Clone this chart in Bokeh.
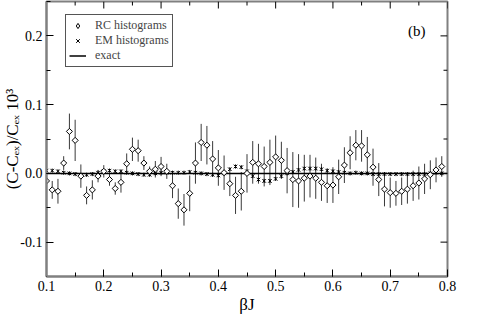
import math
from bokeh.plotting import figure
from bokeh.models import (Range1d, Label, Legend, LegendItem,
                          SingleIntervalTicker, NumeralTickFormatter)
from bokeh.embed import file_html
from bokeh.resources import INLINE

beta_j = [0.10, 0.11, 0.12, 0.13, 0.14, 0.15, 0.16, 0.17, 0.18, 0.19,
          0.20, 0.21, 0.22, 0.23, 0.24, 0.25, 0.26, 0.27, 0.28, 0.29,
          0.30, 0.31, 0.32, 0.33, 0.34, 0.35, 0.36, 0.37, 0.38, 0.39,
          0.40, 0.41, 0.42, 0.43, 0.44, 0.45, 0.46, 0.47, 0.48, 0.49,
          0.50, 0.51, 0.52, 0.53, 0.54, 0.55, 0.56, 0.57, 0.58, 0.59,
          0.60, 0.61, 0.62, 0.63, 0.64, 0.65, 0.66, 0.67, 0.68, 0.69,
          0.70, 0.71, 0.72, 0.73, 0.74, 0.75, 0.76, 0.77, 0.78, 0.79]

rc_val = [-0.011, -0.024, -0.026, 0.015, 0.061, 0.048, -0.004, -0.032, -0.024, -0.004,
          0.003, -0.009, -0.022, -0.013, 0.014, 0.035, 0.033, 0.015, 0.003, 0.006,
          0.010, 0.003, -0.018, -0.044, -0.053, -0.029, 0.015, 0.045, 0.041, 0.021,
          0.008, 0.001, -0.015, -0.032, -0.026, 0.000, 0.016, 0.014, 0.010, 0.016,
          0.024, 0.019, 0.004, -0.009, -0.011, -0.007, -0.004, -0.007, -0.013, -0.018,
          -0.017, -0.005, 0.012, 0.030, 0.041, 0.040, 0.027, 0.009, -0.009, -0.023,
          -0.028, -0.029, -0.026, -0.023, -0.018, -0.014, -0.008, -0.002, 0.005, 0.010]

rc_err = [0.012, 0.013, 0.018, 0.010, 0.026, 0.030, 0.017, 0.013, 0.014, 0.009,
          0.009, 0.009, 0.009, 0.015, 0.015, 0.017, 0.016, 0.010, 0.007, 0.012,
          0.014, 0.011, 0.018, 0.022, 0.023, 0.026, 0.030, 0.027, 0.028, 0.026,
          0.026, 0.025, 0.018, 0.027, 0.028, 0.028, 0.031, 0.029, 0.029, 0.033,
          0.031, 0.027, 0.033, 0.040, 0.039, 0.034, 0.031, 0.030, 0.027, 0.025,
          0.026, 0.025, 0.026, 0.024, 0.022, 0.023, 0.026, 0.027, 0.024, 0.025,
          0.022, 0.018, 0.020, 0.021, 0.022, 0.024, 0.022, 0.021, 0.018, 0.015]

em_val = [0.004, 0.004, 0.003, 0.001, 0.000, -0.001, -0.002, -0.002, -0.001, 0.001,
          0.003, 0.004, 0.003, 0.003, 0.001, 0.000, -0.001, -0.002, -0.002, 0.000,
          0.001, 0.001, 0.001, 0.001, 0.001, 0.002, 0.001, 0.000, -0.001, -0.002,
          -0.003, 0.000, 0.006, 0.010, 0.009, 0.003, -0.004, -0.009, -0.011, -0.011,
          -0.008, -0.004, 0.000, 0.002, 0.005, 0.007, 0.007, 0.007, 0.006, 0.004,
          0.003, 0.002, 0.001, 0.000, 0.001, 0.000, 0.000, -0.001, -0.001, -0.001,
          -0.001, -0.001, -0.001, -0.001, -0.001, -0.001, -0.001, 0.000, 0.001, 0.000]

em_err = [0.003] * 70

exact_x = [0.1, 0.8]
exact_y = [0.0, 0.0]

# tick positions for the mirrored (top / right) tick marks
x_major = [0.1, 0.2, 0.3, 0.4, 0.5, 0.6, 0.7, 0.8]
x_minor = [0.15, 0.25, 0.35, 0.45, 0.55, 0.65, 0.75]
y_major = [-0.1, 0.0, 0.1, 0.2]
y_minor = [-0.05, 0.05, 0.15]

X0, X1 = 0.1, 0.8
Y0, Y1 = -0.15, 0.25

SERIF = "Liberation Serif"

p = figure(width=477, height=316, output_backend="svg", toolbar_location=None,
           x_range=Range1d(X0, X1), y_range=Range1d(Y0, Y1),
           min_border_left=45, min_border_right=30, min_border_top=1,
           min_border_bottom=34)
p.outline_line_color = "#808080"
p.outline_line_width = 2
p.xgrid.visible = False
p.ygrid.visible = False
p.background_fill_color = "white"
p.border_fill_color = "white"

# error bars
rc_lo = [v - e for v, e in zip(rc_val, rc_err)]
rc_hi = [v + e for v, e in zip(rc_val, rc_err)]
em_lo = [v - e for v, e in zip(em_val, em_err)]
em_hi = [v + e for v, e in zip(em_val, em_err)]
p.segment(x0=beta_j, y0=rc_lo, x1=beta_j, y1=rc_hi, line_color="#3a3a3a", line_width=1)
p.segment(x0=beta_j, y0=em_lo, x1=beta_j, y1=em_hi, line_color="black", line_width=1)

r_exact = p.line(exact_x, exact_y, line_color="black", line_width=1.5)
r_em = p.scatter(beta_j, em_val, marker="x", size=5, line_color="black", line_width=1)
p.scatter(beta_j, rc_val, marker="square", angle=math.pi / 4, size=4.3,
          line_color="black", fill_color="white", line_width=1)
# legend key glyph (holds no data point, only used by the legend)
r_rc_key = p.scatter(x=[float("nan")], y=[float("nan")], marker="diamond", size=8,
                     line_color="black", fill_color="white", line_width=1)

# mirrored ticks on top and right (inward)
p.ray(x=x_major, y=[Y1] * len(x_major), length=7, length_units="screen",
      angle=-math.pi / 2, line_color="black", line_width=1)
p.ray(x=x_minor, y=[Y1] * len(x_minor), length=4, length_units="screen",
      angle=-math.pi / 2, line_color="black", line_width=1)
p.ray(x=[X1] * len(y_major), y=y_major, length=7, length_units="screen",
      angle=math.pi, line_color="black", line_width=1)
p.ray(x=[X1] * len(y_minor), y=y_minor, length=4, length_units="screen",
      angle=math.pi, line_color="black", line_width=1)

for ax in (p.xaxis[0], p.yaxis[0]):
    ax.ticker = SingleIntervalTicker(interval=0.1, num_minor_ticks=2)
    ax.formatter = NumeralTickFormatter(format="0.0")
    ax.axis_line_color = "#808080"
    ax.axis_line_width = 2
    ax.major_tick_in = 7
    ax.major_tick_out = 0
    ax.minor_tick_in = 4
    ax.minor_tick_out = 0
    ax.major_tick_line_color = "black"
    ax.minor_tick_line_color = "black"
    ax.major_label_text_font = SERIF
    ax.major_label_text_font_size = "14px"
    ax.major_label_text_color = "black"
    ax.axis_label_text_font = SERIF
    ax.axis_label_text_font_style = "normal"
    ax.axis_label_text_color = "black"

p.xaxis[0].axis_label = "βJ"
p.xaxis[0].axis_label_text_font_size = "17px"
p.xaxis[0].major_label_standoff = 4
p.xaxis[0].axis_label_standoff = 1

p.yaxis[0].axis_label = "(C-Cₑₓ)/Cₑₓ 10³"
p.yaxis[0].axis_label_text_font_size = "17px"
p.yaxis[0].major_label_standoff = 4
p.yaxis[0].axis_label_standoff = -5

legend = Legend(items=[LegendItem(label="RC histograms", renderers=[r_rc_key]),
                       LegendItem(label="EM histograms", renderers=[r_em]),
                       LegendItem(label="exact", renderers=[r_exact])],
                location=(19, 209))
legend.label_text_font = SERIF
legend.label_text_font_size = "12px"
legend.label_height = 13
legend.glyph_height = 13
legend.glyph_width = 17
legend.spacing = 0
legend.padding = 3
legend.margin = 0
legend.border_line_color = "#555555"
legend.border_line_alpha = 1.0
legend.border_line_width = 1.5
legend.label_standoff = 9
legend.background_fill_color = "white"
legend.background_fill_alpha = 1.0
p.add_layout(legend)

p.add_layout(Label(x=0.731, y=0.2075, text="(b)", text_font=SERIF,
                   text_font_size="15px", text_baseline="middle", text_color="black"))

open("out.html", "w").write(file_html(p, INLINE))
